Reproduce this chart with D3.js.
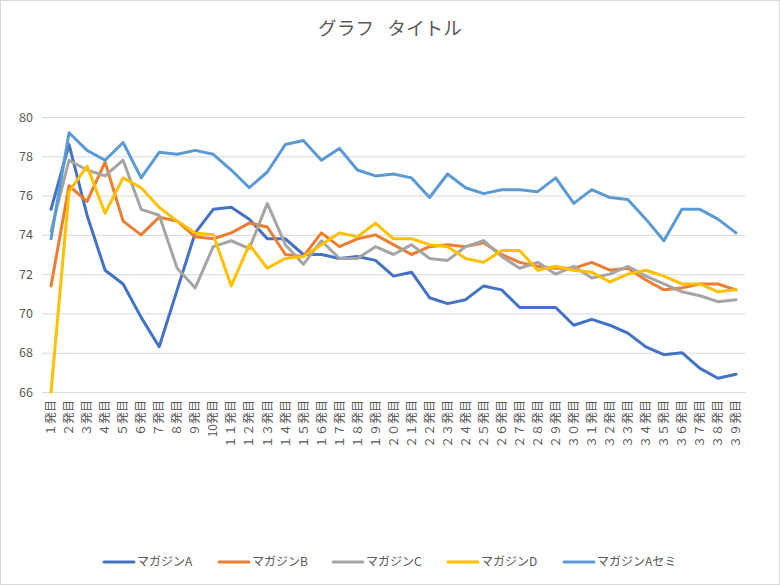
<!DOCTYPE html>
<html><head><meta charset="utf-8">
<script src="https://cdn.jsdelivr.net/npm/d3@7"></script>
<style>
html,body{margin:0;padding:0;background:#fff;}
svg{display:block;font-family:"Noto Sans CJK JP","Noto Sans",sans-serif;}
</style></head>
<body><svg id="c" width="780" height="585"></svg>
<script>
const categories = ["１発目","２発目","３発目","４発目","５発目","６発目","７発目","８発目","９発目","10発目",
  "１１発目","１２発目","１３発目","１４発目","１５発目","１６発目","１７発目","１８発目","１９発目","２０発目",
  "２１発目","２２発目","２３発目","２４発目","２５発目","２６発目","２７発目","２８発目","２９発目","３０発目",
  "３１発目","３２発目","３３発目","３４発目","３５発目","３６発目","３７発目","３８発目","３９発目"];
const seriesNames = ["マガジンA", "マガジンB", "マガジンC", "マガジンD", "マガジンAセミ"];
const seriesColors = ["#4472C4", "#ED7D31", "#A5A5A5", "#FFC000", "#5B9BD5"];
const magA = [75.3,78.6,75.0,72.2,71.5,69.8,68.3,71.2,74.1,75.3,75.4,74.8,73.8,73.8,73.0,73.0,72.8,72.9,72.7,71.9,72.1,70.8,70.5,70.7,71.4,71.2,70.3,70.3,70.3,69.4,69.7,69.4,69.0,68.3,67.9,68.0,67.2,66.7,66.9];
const magB = [71.4,76.5,75.7,77.7,74.7,74.0,74.9,74.7,73.9,73.8,74.1,74.6,74.4,73.0,72.9,74.1,73.4,73.8,74.0,73.5,73.0,73.4,73.5,73.4,73.6,73.0,72.6,72.4,72.3,72.3,72.6,72.2,72.3,71.7,71.2,71.3,71.5,71.5,71.2];
const magC = [74.2,77.8,77.3,77.0,77.8,75.3,75.0,72.3,71.3,73.4,73.7,73.3,75.6,73.5,72.5,73.7,72.8,72.8,73.4,73.0,73.5,72.8,72.7,73.4,73.7,72.9,72.3,72.6,72.0,72.4,71.8,72.0,72.4,71.9,71.5,71.1,70.9,70.6,70.7];
const magD = [66.0,76.2,77.5,75.1,76.9,76.4,75.4,74.7,74.1,74.0,71.4,73.5,72.3,72.8,72.9,73.5,74.1,73.9,74.6,73.8,73.8,73.5,73.4,72.8,72.6,73.2,73.2,72.2,72.4,72.2,72.1,71.6,72.0,72.2,71.9,71.5,71.5,71.1,71.2];
const magASemi = [73.8,79.2,78.3,77.8,78.7,76.9,78.2,78.1,78.3,78.1,77.3,76.4,77.2,78.6,78.8,77.8,78.4,77.3,77.0,77.1,76.9,75.9,77.1,76.4,76.1,76.3,76.3,76.2,76.9,75.6,76.3,75.9,75.8,74.8,73.7,75.3,75.3,74.8,74.1];
const yTicks = [66, 68, 70, 72, 74, 76, 78, 80];
const chartTitle = "グラフ タイトル";

(function () {
const allSeries = [magA, magB, magC, magD, magASemi];
const svg = d3.select("#c");
const W = 780, H = 585;
const pL = 42, pR = 745, pT = 117, pB = 392;
const FONT = "'Noto Sans CJK JP','Noto Sans',sans-serif";

svg.append("rect").attr("x", 0.5).attr("y", 0.5).attr("width", W - 1).attr("height", H - 1)
  .attr("fill", "#fff").attr("stroke", "#d9d9d9");

svg.append("text").attr("x", 390).attr("y", 35).attr("text-anchor", "middle")
  .attr("font-size", 18.67).attr("word-spacing", 9).attr("fill", "#595959").text(chartTitle);

const x = d3.scaleBand().domain(categories).range([pL, pR]).padding(0);
const y = d3.scaleLinear().domain([66, 80]).range([pB, pT]);

const grid = svg.append("g").attr("transform", `translate(${pL},0)`)
  .call(d3.axisLeft(y).tickValues(yTicks).tickSize(-(pR - pL)).tickFormat(""));
grid.select(".domain").remove();
grid.selectAll("line").attr("stroke", "#d9d9d9").attr("stroke-width", 1);

const ya = svg.append("g").attr("transform", `translate(${pL},0)`)
  .call(d3.axisLeft(y).tickValues(yTicks).tickSize(0).tickPadding(9).tickFormat(d3.format("d")));
ya.select(".domain").remove();
ya.selectAll("text").attr("font-size", 12.5).attr("fill", "#595959").attr("font-family", FONT);

const xa = svg.append("g").attr("transform", `translate(0,${pB})`)
  .call(d3.axisBottom(x).tickSize(0).tickPadding(0));
xa.select(".domain").attr("stroke", "#d9d9d9");
xa.selectAll("text").attr("font-size", 12).attr("fill", "#595959").attr("font-family", FONT)
  .attr("text-anchor", "end").attr("dy", "0.35em").attr("y", 0)
  .attr("transform", "translate(0,8) rotate(-90)");

const line = d3.line().x((d, i) => x(categories[i]) + x.bandwidth() / 2).y(d => y(d));
allSeries.forEach((s, k) => {
  svg.append("path").datum(s).attr("d", line).attr("fill", "none")
    .attr("stroke", seriesColors[k]).attr("stroke-width", 3)
    .attr("stroke-linejoin", "round").attr("stroke-linecap", "round");
});

const legX = [104, 219, 333, 448, 564];
seriesNames.forEach((n, k) => {
  const g = svg.append("g").attr("transform", `translate(${legX[k]},562)`);
  g.append("line").attr("x1", 0).attr("x2", 30).attr("y1", 0).attr("y2", 0)
    .attr("stroke", seriesColors[k]).attr("stroke-width", 3).attr("stroke-linecap", "round");
  g.append("text").attr("x", 33).attr("y", 0).attr("dy", "0.35em")
    .attr("font-size", 12).attr("fill", "#595959").text(n);
});
})();
</script></body></html>
